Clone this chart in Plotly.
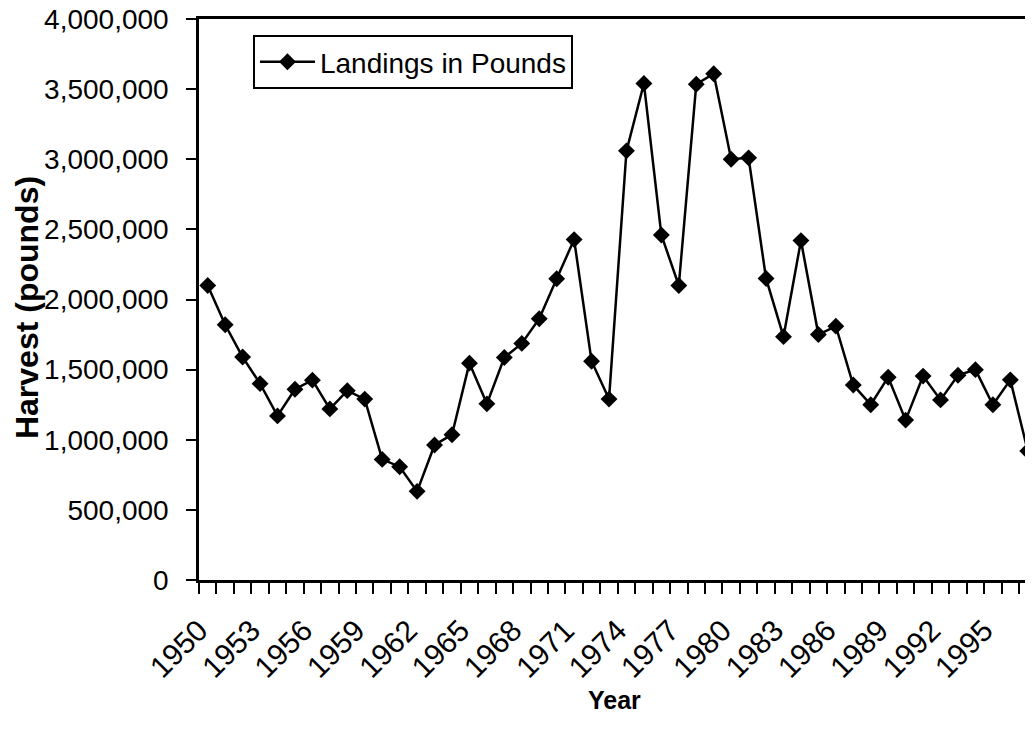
import plotly.graph_objects as go

years = list(range(1950, 1998))
landings = [2100000, 1820000, 1590000, 1400000, 1170000, 1360000, 1425000, 1220000, 1350000, 1290000,
            860000, 808000, 632000, 963000, 1036000, 1546000, 1256000, 1586000, 1687000, 1863000,
            2148000, 2427000, 1560000, 1290000, 3060000, 3540000, 2460000, 2100000, 3535000, 3610000,
            3000000, 3010000, 2150000, 1735000, 2420000, 1750000, 1810000, 1390000, 1250000, 1446000,
            1140000, 1454000, 1284000, 1460000, 1500000, 1250000, 1427000, 920000]
tick_years = list(range(1950, 1998, 3))
y_ticks = [0, 500000, 1000000, 1500000, 2000000, 2500000, 3000000, 3500000, 4000000]

FONT = "Arial, Liberation Sans, sans-serif"

fig = go.Figure()
fig.add_trace(go.Scatter(
    x=years, y=landings, mode="lines+markers", name="Landings in Pounds",
    line=dict(color="black", width=2.5),
    marker=dict(symbol="diamond", size=13, color="black"),
))

fig.update_layout(
    width=1025, height=739,
    margin=dict(l=191, r=0, t=11, b=167),
    paper_bgcolor="white", plot_bgcolor="white",
    font=dict(family=FONT, color="black", size=28),
    showlegend=True,
    legend=dict(x=0.0647, y=0.9715, xanchor="left", yanchor="top",
                bordercolor="black", borderwidth=2, bgcolor="white",
                itemwidth=55,
                font=dict(size=28, family=FONT)),
    xaxis=dict(
        range=[1949.5, 1997.3], automargin=False,
        tickmode="array", tickvals=[y - 0.5 for y in tick_years],
        ticktext=[str(v) for v in tick_years],
        tickangle=-45, ticks="", ticklen=0, ticklabelstandoff=18,
        showline=True, linecolor="black", linewidth=2.5, mirror=True,
        showgrid=False, zeroline=False,
        tickfont=dict(size=30, family=FONT),
        minor=dict(tickmode="array", tickvals=[1949.5 + k for k in range(49)],
                   ticks="outside", ticklen=11, tickwidth=2, tickcolor="black", showgrid=False),
    ),
    yaxis=dict(
        range=[0, 4000000], automargin=False,
        tickmode="array", tickvals=y_ticks, ticktext=[f"{v:,}" for v in y_ticks],
        ticks="outside", ticklen=10, tickwidth=2, tickcolor="black", ticklabelstandoff=12,
        ticklabeloverflow="allow",
        showline=True, linecolor="black", linewidth=2.5, mirror=False,
        showgrid=False, zeroline=False,
        tickfont=dict(size=28, family=FONT),
    ),
    annotations=[
        dict(text="<b>Year</b>", xref="paper", yref="paper", x=0.4988, y=-0.2139,
             xanchor="center", yanchor="middle", showarrow=False,
             font=dict(size=25, family=FONT)),
        dict(text="<b>Harvest (pounds)</b>", xref="paper", yref="paper", x=-0.2062, y=0.4848,
             xanchor="center", yanchor="middle", textangle=-90, showarrow=False,
             font=dict(size=32, family=FONT)),
    ],
)

fig.write_html("out.html")
